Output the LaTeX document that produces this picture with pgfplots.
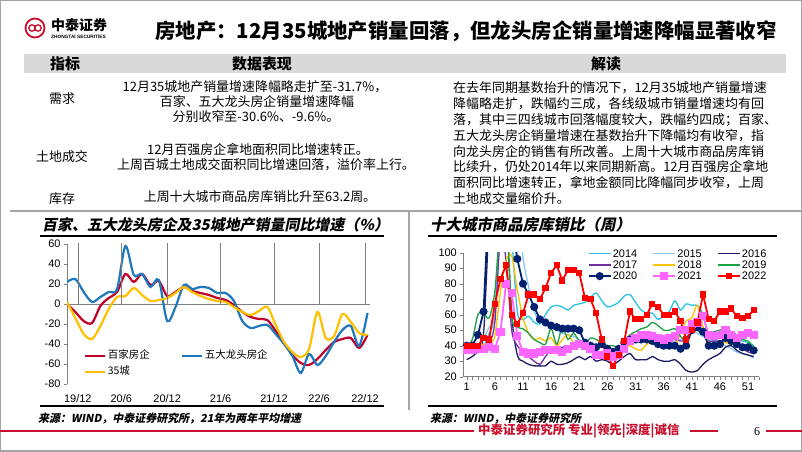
\documentclass[border=0pt]{standalone}
\usepackage{pgfplots}
\usepackage{pgfplotstable}
\pgfplotsset{compat=1.18}
\usepackage{fontspec}
\setmainfont{Noto Sans CJK SC}
\newfontfamily\arial{Liberation Sans}
\newfontfamily\tnr{Liberation Serif}
\newfontfamily\cjksl{Noto Sans CJK SC}[FakeSlant=0.2]

\definecolor{zred}{RGB}{200,16,46}
\definecolor{cRed}{RGB}{192,0,40}
\definecolor{cBlue}{RGB}{31,119,190}
\definecolor{cYel}{RGB}{255,192,0}
\definecolor{y14}{RGB}{40,195,230}
\definecolor{y15}{RGB}{140,200,245}
\definecolor{y16}{RGB}{30,30,100}
\definecolor{y17}{RGB}{112,48,160}
\definecolor{y18}{RGB}{255,192,0}
\definecolor{y19}{RGB}{30,160,70}
\definecolor{y20}{RGB}{0,32,112}
\definecolor{y21}{RGB}{255,102,255}
\definecolor{y22}{RGB}{255,0,0}
\definecolor{band}{RGB}{217,217,217}
\definecolor{frame}{RGB}{165,165,165}

\pgfplotstableread{
idx red blue yel
0 0 22 2
1 -8 25 -14
2 -17 12 -30
3 -19 2 -35
4 -2 7 -22
5 6 12 -5
6 12 15 7
7 30 58 8
8 22 29 16
9 30 30 9
10 19 17 3
11 23 24 4
12 8 -17 6
13 12 -3 11
14 17 19 17
15 13 15 12
16 11 17 8
17 9 16 5
18 6 11 3
19 4 11 2
20 -1 3 -3
21 -8 -17 -8
22 -13 -24 -11
23 -15 -22 -7
24 -16 -21 -3
25 -27 -30 -21
26 -39 -40 -38
27 -51 -52 -48
28 -59 -69 -53
29 -61 -50 -45
30 -55 -61 -8
31 -46 -52 -34
32 -38 -38 -32
33 -35 -26 -10
34 -34 -22 -18
35 -44 -42 -29
36 -31 -9 -31
}\leftdata

\pgfplotstableread{
w a14 a15 a16 a17 a18 a19 a20 a21 a22
1 40 40 31 37 39 40 40 37 40
2 40 40 33 38 39 44 40 37 40
3 38 41 37 38 40 60 47 38 40
4 40 45 48 40 41 61 62 38 45
5 48 52 120 42 42 58 140 39 44
6 62 60 150 55 46 75 170 38 67
7 130 120 150 110 75 120 170 49 83
8 150 150 130 95 95 130 150 80 92
9 110 150 60 50 98 60 120 74 60
10 62 130 34 40 76 52 96 46 54
11 57 97 30 36 58 51 80 36 61
12 59 78 28 33 48 48 73 35 73
13 55 62 27 30 44 44 65 35 73
14 54 56 27 28 45 42 57 36 70
15 60 55 27 33 43 41 55 37 77
16 65 52 30 37 45 51 53 37 87
17 66 50 28 37 40 41 52 37 92
18 65 48 28 39 44 52 51 36 82
19 63 47 29 40 47 44 51 38 89
20 66 46 31 40 42 48 51 40 89
21 67 44 33 41 40 43 50 41 87
22 68 42 31 40 39 41 42 40 71
23 71 42 33 39 39 45 40 38 70
24 74 40 30 40 40 44 39 34 61
25 69 40 31 41 39 42 41 34 44
26 65 38 30 38 39 40 38 35 33
27 66 36 28 36 38 40 36 33 27
28 68 36 30 37 38 39 38 34 34
29 72 38 33 40 39 42 42 38 43
30 73 42 35 43 40 47 44 43 62
31 68 44 31 43 38 49 44 45 57
32 63 45 31 44 37 51 44 47 57
33 61 45 31 44 41 52 44 47 60
34 61 44 33 45 42 55 43 46 67
35 57 44 31 44 41 53 41 45 65
36 59 43 30 44 40 50 40 44 60
37 62 42 30 44 38 50 40 45 60
38 69 43 31 44 40 51 40 46 62
39 63 44 28 43 48 46 38 50 56
40 67 47 24 44 56 43 40 50 44
41 66 50 23 51 58 52 50 54 50
42 66 48 24 52 66 50 52 55 55
43 60 46 28 49 52 47 49 59 73
44 45 44 31 43 42 47 40 47 57
45 43 42 33 43 42 49 40 46 56
46 43 41 35 43 42 50 41 47 62
47 44 40 39 44 42 51 45 50 62
48 44 38 40 43 41 49 43 47 64
49 44 36 37 41 41 47 41 45 59
50 43 35 35 38 40 44 39 47 58
51 42 34 34 36 39 43 39 48 59
52 40 32 33 35 38 39 37 47 63
}\rightdata

\begin{document}
\begin{tikzpicture}[x=1bp,y=1bp]
\path[use as bounding box] (0,0) rectangle (802,452);
\fill[white] (0,0) rectangle (802,452);
\draw[frame, line width=1.5bp] (0.75,0.75) rectangle (801.25,451.25);

% logo
\draw[zred, line width=1.8bp] (35,452-28) circle (9.5);
\draw[zred, line width=1.3bp] (32,452-28) circle (3.2);
\draw[zred, line width=1.3bp] (38,452-28) circle (3.2);
\node[font=\bfseries\fontsize{14}{14}\selectfont, anchor=west, inner sep=0] at (51,452-25) {中泰证券};
\node[font=\arial\bfseries\fontsize{4.8}{5}\selectfont, anchor=west, inner sep=0] at (51,452-37) {ZHONGTAI SECURITIES};

% title
\node[font=\bfseries\fontsize{20.5}{20.5}\selectfont, anchor=west, inner sep=0] at (155,452-31) {房地产：12月35城地产销量回落，但龙头房企销量增速降幅显著收窄};

% table
\fill[band] (24,452-54) rectangle (786,452-73);
\node[font=\bfseries\fontsize{15}{15}\selectfont] at (65,452-63.5) {指标};
\node[font=\bfseries\fontsize{15}{15}\selectfont] at (262,452-63.5) {数据表现};
\node[font=\bfseries\fontsize{15}{15}\selectfont] at (606,452-63.5) {解读};

\begin{scope}[every node/.style={font=\fontsize{13}{13}\selectfont, inner sep=0}]
\node at (62,452-99) {需求};
\node at (62,452-157) {土地成交};
\node at (62,452-199) {库存};
\node at (255,452-87) {12月35城地产销量增速降幅略走扩至-31.7\%，};
\node at (257,452-102) {百家、五大龙头房企销量增速降幅};
\node at (256,452-117) {分别收窄至-30.6\%、-9.6\%。};
\node at (258,452-150) {12月百强房企拿地面积同比增速转正。};
\node at (266,452-165) {上周百城土地成交面积同比增速回落，溢价率上行。};
\node at (260,452-197) {上周十大城市商品房库销比升至63.2周。};
\end{scope}
\begin{scope}[every node/.style={font=\fontsize{13}{13}\selectfont, inner sep=0, anchor=west}]
\node at (453,452-88) {在去年同期基数抬升的情况下，12月35城地产销量增速};
\node at (453,452-103.8) {降幅略走扩，跌幅约三成，各线级城市销量增速均有回};
\node at (453,452-119.6) {落，其中三四线城市回落幅度较大，跌幅约四成；百家、};
\node at (453,452-135.4) {五大龙头房企销量增速在基数抬升下降幅均有收窄，指};
\node at (453,452-151.2) {向龙头房企的销售有所改善。上周十大城市商品房库销};
\node at (453,452-167) {比续升，仍处2014年以来同期新高。12月百强房企拿地};
\node at (453,452-182.8) {面积同比增速转正，拿地金额同比降幅同步收窄，上周};
\node at (453,452-198.6) {土地成交量缩价升。};
\end{scope}

% panel frames
\draw[frame, line width=1.2bp] (10,452-211) -- (802,452-211);
\draw[frame, line width=1.2bp] (409,452-211) -- (409,452-410);

% chart titles
\node[font=\cjksl\bfseries\fontsize{15}{15}\selectfont, anchor=west, inner sep=0] at (42,452-225) {百家、五大龙头房企及35城地产销量同比增速（\%）};
\node[font=\cjksl\bfseries\fontsize{15.5}{15.5}\selectfont, anchor=west, inner sep=0] at (430,452-225) {十大城市商品房库销比（周）};
\draw[black, line width=1.5bp] (40,452-236) -- (384,452-236);
\draw[black, line width=1.5bp] (428,452-236) -- (777,452-236);
\draw[black, line width=1.5bp] (40,452-406) -- (384,452-406);
\draw[black, line width=1.5bp] (428,452-406) -- (777,452-406);

% sources
\node[font=\cjksl\bfseries\fontsize{11}{11}\selectfont, anchor=west, inner sep=0] at (38,452-419) {来源：WIND，中泰证券研究所，21年为两年平均增速};
\node[font=\cjksl\bfseries\fontsize{11}{11}\selectfont, anchor=west, inner sep=0] at (430,452-419) {来源：WIND，中泰证券研究所};

% footer
\draw[zred, line width=2bp] (0,452-431) -- (474,452-431);
\node[anchor=west, inner sep=0, text=zred, font=\bfseries\fontsize{12.5}{12.5}\selectfont] at (478,452-431) {中泰证券研究所 专业|领先|深度|诚信};
\draw[zred, line width=2bp] (690,452-431) -- (718,452-431);
\node[font=\tnr\fontsize{12}{12}\selectfont, inner sep=0] at (757,452-432) {6};
\draw[zred, line width=2bp] (766,452-431) -- (802,452-431);

% left chart
\begin{axis}[
  at={(67bp,68bp)}, anchor=south west,
  scale only axis, width=303bp, height=140bp,
  xmin=0, xmax=36.3, ymin=-80, ymax=60,
  axis lines*=left,
  x axis line style={draw=none},
  y axis line style={draw=gray},
  xtick={1.3,6.5,12,18.4,24.8,30.2,35.7},
  xticklabels={19/12,20/6,20/12,21/6,21/12,22/6,22/12},
  x tick style={draw=none},
  ytick={-80,-60,...,60},
  yticklabels={-80,-60,-40,-20,0,20,40,60},
  y tick style={gray},
  tick align=outside, major tick length=3bp,
  ticklabel style={font=\arial\fontsize{11}{11}\selectfont},
  xticklabel style={yshift=-4bp},
  extra y ticks={0}, extra y tick labels={},
  extra y tick style={grid=major, major grid style={gray, line width=0.6bp}},
  legend columns=2,
  legend style={draw=none, fill=none, at={(0.056,0.25)}, anchor=north west,
    inner sep=0pt, font=\fontsize{10.5}{10.5}\selectfont,
    nodes={text height=8bp, text depth=2bp, inner sep=1.5bp},
    /tikz/row sep=3bp,
    /tikz/every even column/.append style={column sep=30bp}},
  legend cell align=left,
  legend image code/.code={\draw[#1] (0bp,0bp) -- (20bp,0bp);},
]
\addplot[cRed, line width=2.2bp, smooth] table[x=idx, y=red] {\leftdata};
\addlegendentry{百家房企}
\addplot[cBlue, line width=2.2bp, smooth] table[x=idx, y=blue] {\leftdata};
\addlegendentry{五大龙头房企}
\addplot[cYel, line width=2.2bp, smooth] table[x=idx, y=yel] {\leftdata};
\addlegendentry{35城}
\pgfplotsinvokeforeach{1.3,6.5,12,18.4,24.8,30.2,35.7}{\draw[gray] (axis cs:#1,0) -- ++(0,-3bp);}
\end{axis}

% right chart
\begin{axis}[
  at={(463.3bp,75.3bp)}, anchor=south west,
  scale only axis, width=296bp, height=124bp,
  xmin=0.4, xmax=53, ymin=20, ymax=100,
  axis lines*=left,
  axis line style={gray},
  xtick={1,6,...,51},
  xticklabels={1,6,11,16,21,26,31,36,41,46,51},
  minor xtick={1,...,53},
  ytick={20,30,...,100},
  yticklabels={20,30,40,50,60,70,80,90,100},
  tick style={gray},
  tick align=outside, major tick length=3bp, minor tick length=3bp,
  ticklabel style={font=\arial\fontsize{11}{11}\selectfont},
  legend columns=3,
  legend style={draw=none, fill=none, at={(0.42,1.035)}, anchor=north west,
    inner sep=0pt, font=\arial\fontsize{11}{11}\selectfont,
    nodes={text height=7.5bp, text depth=0.5bp, inner sep=1.2bp},
    /tikz/row sep=0.8bp,
    /tikz/every even column/.append style={column sep=14bp}},
  legend cell align=left,
  legend image code/.code={\draw[mark repeat=2,mark phase=2,#1] plot coordinates {(0bp,0bp) (11bp,0bp) (22bp,0bp)};},
]
\addplot[y14, line width=1.3bp, smooth, no markers] table[x=w, y=a14] {\rightdata};
\addlegendentry{2014}
\addplot[y15, line width=1.3bp, smooth, no markers] table[x=w, y=a15] {\rightdata};
\addlegendentry{2015}
\addplot[y16, line width=1.3bp, smooth, no markers] table[x=w, y=a16] {\rightdata};
\addlegendentry{2016}
\addplot[y17, line width=1.3bp, smooth, no markers] table[x=w, y=a17] {\rightdata};
\addlegendentry{2017}
\addplot[y18, line width=1.3bp, smooth, no markers] table[x=w, y=a18] {\rightdata};
\addlegendentry{2018}
\addplot[y19, line width=1.3bp, smooth, no markers] table[x=w, y=a19] {\rightdata};
\addlegendentry{2019}
\addplot[y20, line width=1.8bp, mark=*, mark size=3.1bp, mark options={fill=y20, draw=y20}] table[x=w, y=a20] {\rightdata};
\addlegendentry{2020}
\addplot[y21, line width=1.8bp, mark=square*, mark size=3.2bp, mark options={fill=y21, draw=y21}] table[x=w, y=a21] {\rightdata};
\addlegendentry{2021}
\addplot[y22, line width=1.8bp, mark=square*, mark size=2.2bp, mark options={fill=y22, draw=y22}] table[x=w, y=a22] {\rightdata};
\addlegendentry{2022}
\end{axis}
\end{tikzpicture}
\end{document}
